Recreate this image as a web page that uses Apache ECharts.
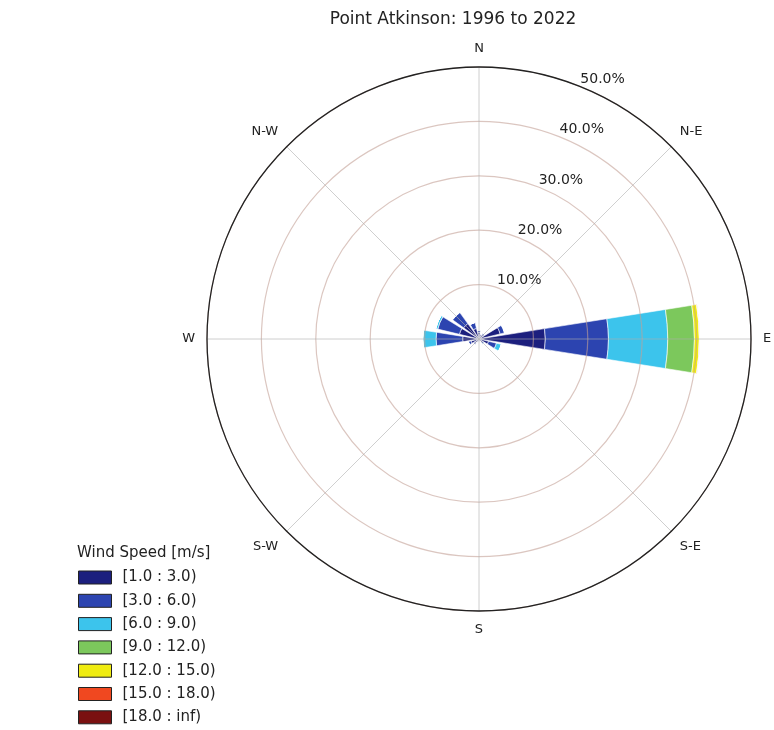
<!DOCTYPE html>
<html>
<head>
<meta charset="utf-8">
<script src="https://cdn.jsdelivr.net/npm/echarts@6/dist/echarts.min.js"></script>
<style>
  html, body { margin: 0; padding: 0; background: #fff; }
  #chart { width: 774px; height: 730px; }
</style>
</head>
<body>
<div id="chart"></div>
<script>
// 16 wind sectors, clockwise from north
const directions = ['N', 'NNE', 'NE', 'ENE', 'E', 'ESE', 'SE', 'SSE', 'S', 'SSW', 'SW', 'WSW', 'W', 'WNW', 'NW', 'NNW'];
// compass labels every 45 degrees
const compassLabels = ['N', 'N-E', 'E', 'S-E', 'S', 'S-W', 'W', 'N-W'];
const ringLabels = ['', '10.0%', '20.0%', '30.0%', '40.0%', '50.0%'];

const speedBins = ['[1.0 : 3.0)', '[3.0 : 6.0)', '[6.0 : 9.0)', '[9.0 : 12.0)', '[12.0 : 15.0)', '[15.0 : 18.0)', '[18.0 : inf)'];
const binColors = ['#1c1f7e', '#2c44b0', '#3cc4ec', '#7cc85c', '#f0ec10', '#f04820', '#7a1010'];

// frequency (%) per sector for each speed bin
const speed1to3   = [1.2, 0.8, 1.0, 4.0, 12.2, 1.8, 0.8, 0.5, 0.5, 0.6, 1.0, 1.5, 3.0, 3.7, 3.5, 2.0];
const speed3to6   = [0.4, 0.2, 0.3, 0.8, 11.6, 1.5, 0.3, 0.1, 0.1, 0.2, 0.3, 0.5, 4.9, 4.1, 2.5, 1.1];
const speed6to9   = [0.05, 0, 0, 0.1, 10.9, 0.9, 0.1, 0, 0, 0, 0, 0.05, 2.4, 0.4, 0.1, 0.05];
const speed9to12  = [0, 0, 0, 0, 4.9, 0.05, 0, 0, 0, 0, 0, 0, 0.1, 0, 0, 0];
const speed12to15 = [0, 0, 0, 0, 0.9, 0, 0, 0, 0, 0, 0, 0, 0, 0, 0, 0];
const speed15to18 = [0, 0, 0, 0, 0.05, 0, 0, 0, 0, 0, 0, 0, 0, 0, 0, 0];
const speed18up   = [0, 0, 0, 0, 0.01, 0, 0, 0, 0, 0, 0, 0, 0, 0, 0, 0];
const binData = [speed1to3, speed3to6, speed6to9, speed9to12, speed12to15, speed15to18, speed18up];

const chart = echarts.init(document.getElementById('chart'));
const font = 'DejaVu Sans';
const center = [479, 339];
const radius = 272;

const series = speedBins.map((name, i) => ({
  name: name,
  type: 'bar',
  coordinateSystem: 'polar',
  polarIndex: 0,
  stack: 'wind',
  barWidth: '80%',
  data: binData[i],
  itemStyle: { color: binColors[i], borderColor: '#fff', borderWidth: 0.6 },
  z: 1
}));

const option = {
  backgroundColor: '#fff',
  animation: false,
  title: [{
    text: 'Point Atkinson: 1996 to 2022',
    left: 453, top: 11, textAlign: 'center', padding: 0,
    textStyle: { fontFamily: font, fontSize: 17, fontWeight: 'normal', color: '#222' }
  }, {
    text: 'Wind Speed [m/s]',
    left: 77, top: 546, padding: 0,
    textStyle: { fontFamily: font, fontSize: 15, fontWeight: 'normal', color: '#222' }
  }],
  legend: {
    orient: 'vertical',
    left: 78, top: 570, padding: 0,
    height: 158,
    itemWidth: 33, itemHeight: 13, itemGap: 8.3,
    icon: 'rect',
    itemStyle: { borderColor: '#222', borderWidth: 1 },
    textStyle: { fontFamily: font, fontSize: 15, color: '#222', padding: [0, 0, 0, 6] },
    data: speedBins
  },
  polar: [
    { center: center, radius: radius },   // bars
    { center: center, radius: radius },   // grid, spokes, compass labels
    { center: center, radius: radius }    // ring labels along 22.5 deg
  ],
  angleAxis: [{
    polarIndex: 0,
    type: 'category',
    data: directions,
    startAngle: 101.25,
    clockwise: true,
    axisLine: { show: false },
    axisTick: { show: false },
    axisLabel: { show: false },
    splitLine: { show: false }
  }, {
    polarIndex: 1,
    type: 'value',
    min: 0, max: 360, interval: 45,
    startAngle: 90,
    clockwise: true,
    zlevel: 1,
    axisLine: { lineStyle: { color: '#222', width: 1.3 } },
    axisTick: { show: false },
    axisLabel: {
      margin: 12,
      fontFamily: font, fontSize: 13, color: '#222',
      formatter: v => (v >= 360 ? '' : compassLabels[Math.round(v / 45)])
    },
    splitLine: { lineStyle: { color: 'rgba(175,175,175,0.6)', width: 1 } }
  }, {
    polarIndex: 2,
    type: 'value',
    min: 0, max: 360,
    startAngle: 67.5,
    show: false
  }],
  radiusAxis: [{
    polarIndex: 0,
    type: 'value',
    min: 0, max: 50, interval: 10,
    axisLine: { show: false },
    axisTick: { show: false },
    axisLabel: { show: false },
    splitLine: { show: false }
  }, {
    polarIndex: 1,
    type: 'value',
    min: 0, max: 50, interval: 10,
    zlevel: 1,
    axisLine: { show: false },
    axisTick: { show: false },
    axisLabel: { show: false },
    splitLine: { lineStyle: { color: 'rgba(195,160,150,0.6)', width: 1.2 } }
  }, {
    polarIndex: 2,
    type: 'value',
    min: 0, max: 50, interval: 10,
    axisLine: { show: false },
    axisTick: { show: false },
    splitLine: { show: false },
    axisLabel: {
      margin: 3,
      align: 'left', verticalAlign: 'bottom',
      fontFamily: font, fontSize: 14, color: '#222',
      formatter: v => ringLabels[Math.round(v / 10)]
    }
  }],
  series: series
};

chart.setOption(option);
</script>
</body>
</html>
